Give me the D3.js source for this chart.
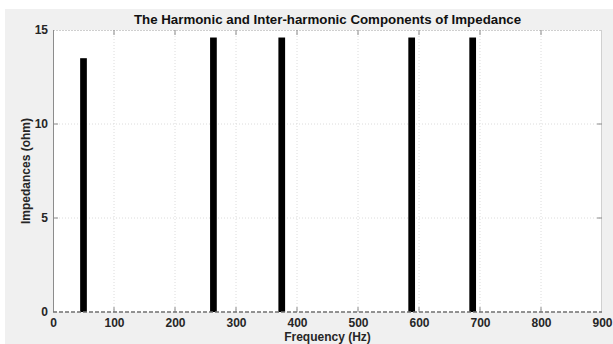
<!DOCTYPE html>
<html>
<head>
<meta charset="utf-8">
<script src="https://cdn.jsdelivr.net/npm/d3@7"></script>
<style>
  html, body { margin: 0; padding: 0; background: #fff; }
  svg text { font-family: "Liberation Sans", Arial, sans-serif; font-weight: bold; }
</style>
</head>
<body>
<script>
// harmonic / inter-harmonic components
const frequencies = [50, 263, 375, 588, 688];
const impedances = [13.5, 14.6, 14.6, 14.6, 14.6];
const xTicks = [0, 100, 200, 300, 400, 500, 600, 700, 800, 900];
const yTicks = [0, 5, 10, 15];

const W = 613, H = 344;
const MARGIN = {top: 30, right: 11, bottom: 32, left: 53};
const PW = W - MARGIN.left - MARGIN.right;
const PH = H - MARGIN.top - MARGIN.bottom;
const barWidthHz = 11;

const svg = d3.select("body").append("svg").attr("width", W).attr("height", H);

// figure background
svg.append("rect").attr("x", 5).attr("y", 9).attr("width", W - 5).attr("height", H - 9).attr("fill", "#f0f0f0");

const g = svg.append("g").attr("transform", "translate(" + MARGIN.left + "," + MARGIN.top + ")");

const x = d3.scaleLinear().domain([0, 900]).range([0, PW]);
const y = d3.scaleLinear().domain([0, 15]).range([PH, 0]);

g.append("rect").attr("width", PW).attr("height", PH).attr("fill", "#fff");

// grid lines
g.append("g").selectAll("line")
  .data(xTicks.slice(1, -1))
  .join("line")
    .attr("x1", d => x(d)).attr("x2", d => x(d))
    .attr("y1", 0).attr("y2", PH)
    .attr("stroke", "#dcdcdc").attr("stroke-dasharray", "1,2");
g.append("g").selectAll("line")
  .data(yTicks.slice(1, -1))
  .join("line")
    .attr("x1", 0).attr("x2", PW)
    .attr("y1", d => y(d)).attr("y2", d => y(d))
    .attr("stroke", "#dcdcdc").attr("stroke-dasharray", "1,2");

// box: top and right light, left solid
g.append("line").attr("x1", 0).attr("x2", PW).attr("y1", 0.5).attr("y2", 0.5).attr("stroke", "#cfcfcf").attr("stroke-dasharray", "2,1");
g.append("line").attr("x1", PW - 0.5).attr("x2", PW - 0.5).attr("y1", 0).attr("y2", PH).attr("stroke", "#d0d0d0");

// bars
g.append("g").selectAll("rect")
  .data(frequencies)
  .join("rect")
    .attr("x", d => x(d - barWidthHz / 2))
    .attr("width", x(barWidthHz) - x(0))
    .attr("y", (d, i) => y(impedances[i]))
    .attr("height", (d, i) => y(0) - y(impedances[i]))
    .attr("fill", "#000");

// axes
const xAxis = d3.axisBottom(x).tickValues(xTicks).tickSize(0).tickPadding(6);
const yAxis = d3.axisLeft(y).tickValues(yTicks).tickSize(0).tickPadding(5);

const xa = g.append("g").attr("transform", "translate(0," + PH + ")").call(xAxis);
xa.select(".domain").remove();
xa.selectAll("text").attr("font-size", 12).attr("fill", "#262626");

const ya = g.append("g").call(yAxis);
ya.select(".domain").remove();
ya.selectAll("text").attr("font-size", 12).attr("fill", "#262626");

// inner tick marks on all four sides
const tickLen = 5;
const tk = g.append("g").attr("stroke", "#8a8a8a");
xTicks.slice(1, -1).forEach(t => {
  tk.append("line").attr("x1", x(t)).attr("x2", x(t)).attr("y1", 0).attr("y2", tickLen);
  tk.append("line").attr("x1", x(t)).attr("x2", x(t)).attr("y1", PH).attr("y2", PH - tickLen);
});
yTicks.slice(1, -1).forEach(t => {
  tk.append("line").attr("x1", 0).attr("x2", tickLen).attr("y1", y(t)).attr("y2", y(t));
  tk.append("line").attr("x1", PW).attr("x2", PW - tickLen).attr("y1", y(t)).attr("y2", y(t));
});

// left axis line and dashed baseline
g.append("line").attr("x1", 0.5).attr("x2", 0.5).attr("y1", 0).attr("y2", PH).attr("stroke", "#8c8c8c");
g.append("line").attr("x1", 0).attr("x2", PW).attr("y1", y(0)).attr("y2", y(0))
  .attr("stroke", "#707070").attr("stroke-width", 1.5).attr("stroke-dasharray", "4,2");

// labels
svg.append("text").attr("x", MARGIN.left + PW / 2).attr("y", 24)
  .attr("text-anchor", "middle").attr("font-size", 13.3).attr("fill", "#111")
  .text("The Harmonic and Inter-harmonic Components of Impedance");

svg.append("text").attr("x", MARGIN.left + PW / 2).attr("y", 341)
  .attr("text-anchor", "middle").attr("font-size", 12).attr("fill", "#262626")
  .text("Frequency (Hz)");

svg.append("text")
  .attr("transform", "translate(30," + (MARGIN.top + PH / 2) + ") rotate(-90)")
  .attr("text-anchor", "middle").attr("font-size", 12).attr("fill", "#262626")
  .text("Impedances (ohm)");
</script>
</body>
</html>
